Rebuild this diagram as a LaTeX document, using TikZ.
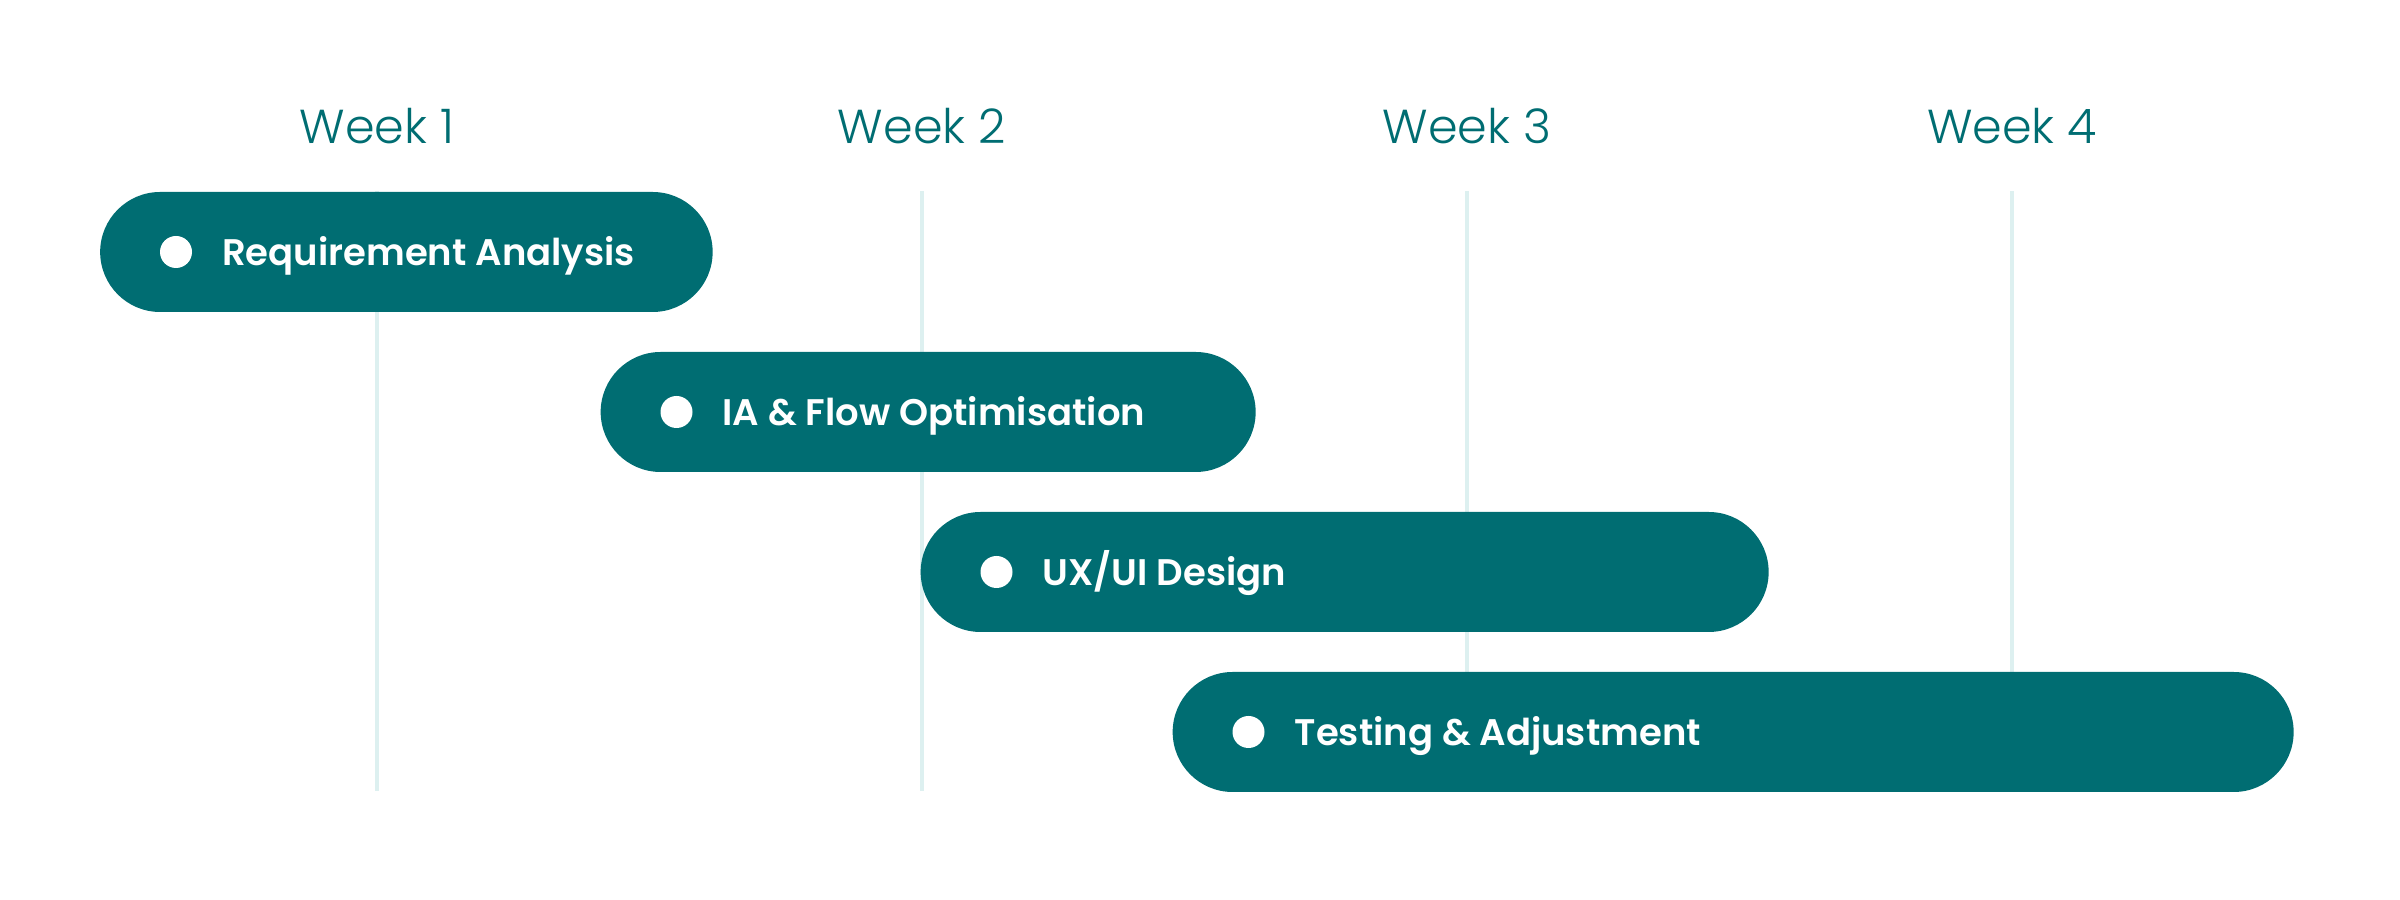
\documentclass[tikz,border=0pt]{standalone}
\usepackage{fontspec}
\newfontfamily\barfont{Poppins SemiBold}
\newfontfamily\weekfont{Poppins Light}
\definecolor{tealbar}{HTML}{006D72}
\definecolor{gridcol}{HTML}{DDF0F0}
\begin{document}
\begin{tikzpicture}[x=0.3pt,y=-0.3pt,
  bar/.style={fill=tealbar, rounded corners=18pt, minimum height=36pt, inner sep=0pt, anchor=west},
  dotmark/.style={circle, fill=white, minimum size=9.6pt, inner sep=0pt},
  bartext/.style={text=white, font=\barfont\fontsize{11.1}{14}\selectfont, anchor=base west, inner sep=0pt},
  weeklabel/.style={text=tealbar, font=\weekfont\fontsize{14.3}{18}\selectfont, anchor=base, inner sep=0pt},
  gridline/.style={draw=gridcol, line width=1pt}]
\useasboundingbox (0,0) rectangle (2400,900);
% week labels
\foreach \i/\x in {1/377,2/922,3/1467,4/2012}{
  \node[weeklabel] (w\i) at (\x,144) {Week \i};
  \coordinate (t\i) at (\x,191);
  \coordinate (b\i) at (\x,791);
  \draw[gridline] (t\i) -- (b\i);
}
% bars
\node[bar, minimum width=183.75pt] (bar1) at (99.5,252) {};
\node[bar, minimum width=196.5pt] (bar2) at (600,412) {};
\node[bar, minimum width=254.4pt] (bar3) at (920,572) {};
\node[bar, minimum width=336.3pt] (bar4) at (1172,732) {};
% dots and labels
\node[dotmark] (d1) at (176,252) {};
\node[bartext] (l1) at (221.5,266) {Requirement Analysis};
\node[dotmark] (d2) at (676.5,412) {};
\node[bartext] (l2) at (722,426) {IA \& Flow Optimisation};
\node[dotmark] (d3) at (996.5,572) {};
\node[bartext] (l3) at (1042,586) {UX/UI Design};
\node[dotmark] (d4) at (1248.5,732) {};
\node[bartext] (l4) at (1294,746) {Testing \& Adjustment};
\end{tikzpicture}
\end{document}
